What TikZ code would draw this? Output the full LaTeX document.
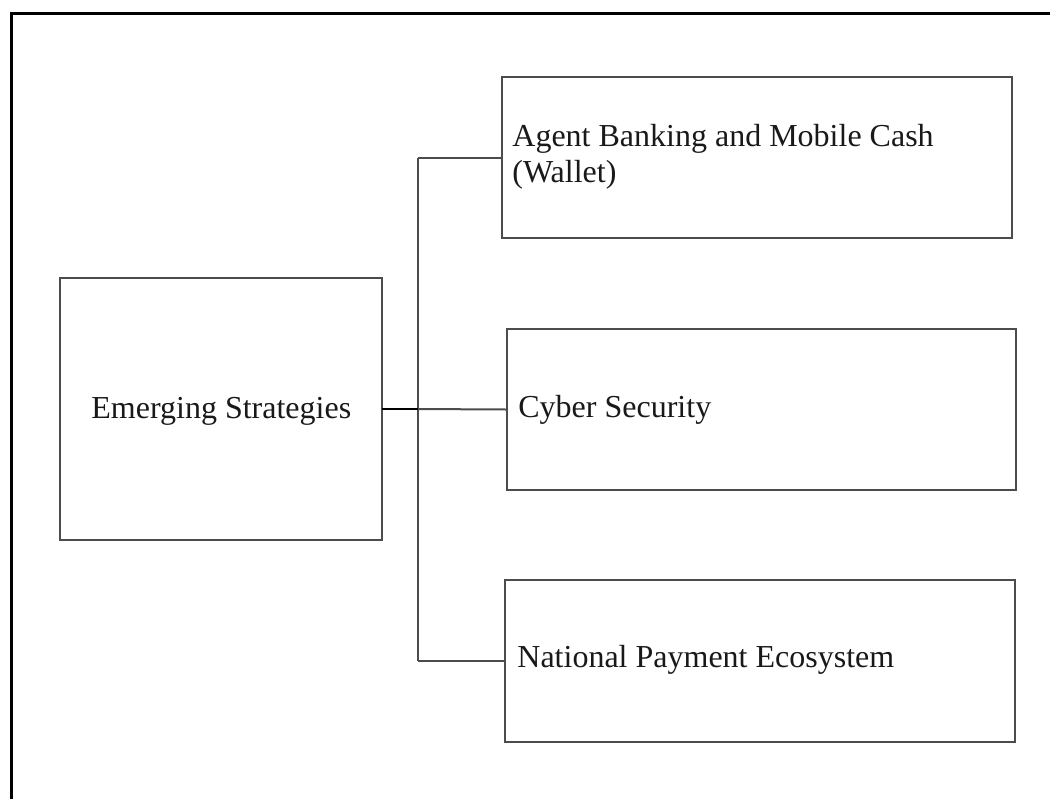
\documentclass[tikz,border=0pt]{standalone}
\usepackage{fontspec}
\setmainfont{Liberation Serif}
\begin{document}
\begin{tikzpicture}[x=0.5pt,y=-0.5pt,
  boxstyle/.style={draw=black!70, line width=1pt, fill=none, inner sep=0pt, outer sep=0pt},
  txt/.style={anchor=base west, inner sep=0pt, font=\fontsize{16pt}{19pt}\selectfont, text=black!90},
  conn/.style={draw=black!70, line width=1pt},
  connk/.style={draw=black, line width=1.4pt}]
\useasboundingbox (0,0) rectangle (1050,799);
\fill[white] (0,0) rectangle (1050,799);
% outer frame (top and left visible)
\draw[line width=1.5pt, black] (11,799) -- (11,13) -- (1050,13);
% boxes
\node[boxstyle, minimum width=161pt, minimum height=131pt] (es) at (221,409) {};
\node[boxstyle, minimum width=255pt, minimum height=80.5pt] (b1) at (757,157.5) {};
\node[boxstyle, minimum width=254.5pt, minimum height=80.5pt] (b2) at (761.5,409.5) {};
\node[boxstyle, minimum width=255pt, minimum height=81pt] (b3) at (760,661) {};
% labels
\node[txt] (tes) at (91,418) {Emerging Strategies};
\node[txt] (t1a) at (512,146) {Agent Banking and Mobile Cash};
\node[txt] (t1b) at (512,182) {(Wallet)};
\node[txt] (t2) at (518,417) {Cyber Security};
\node[txt] (t3) at (517,667) {National Payment Ecosystem};
% connectors
\coordinate (j) at (418,409);
\coordinate (jt) at (418,157.5);
\coordinate (jb) at (418,661);
\draw[conn] (jt) -- (jb);
\draw[conn] (jt) -- (b1.west);
\draw[conn] (jb) -- (b3.west);
\draw[conn] (j) -- (b2.west);
\draw[connk] (es.east) -- (j);
\end{tikzpicture}
\end{document}
